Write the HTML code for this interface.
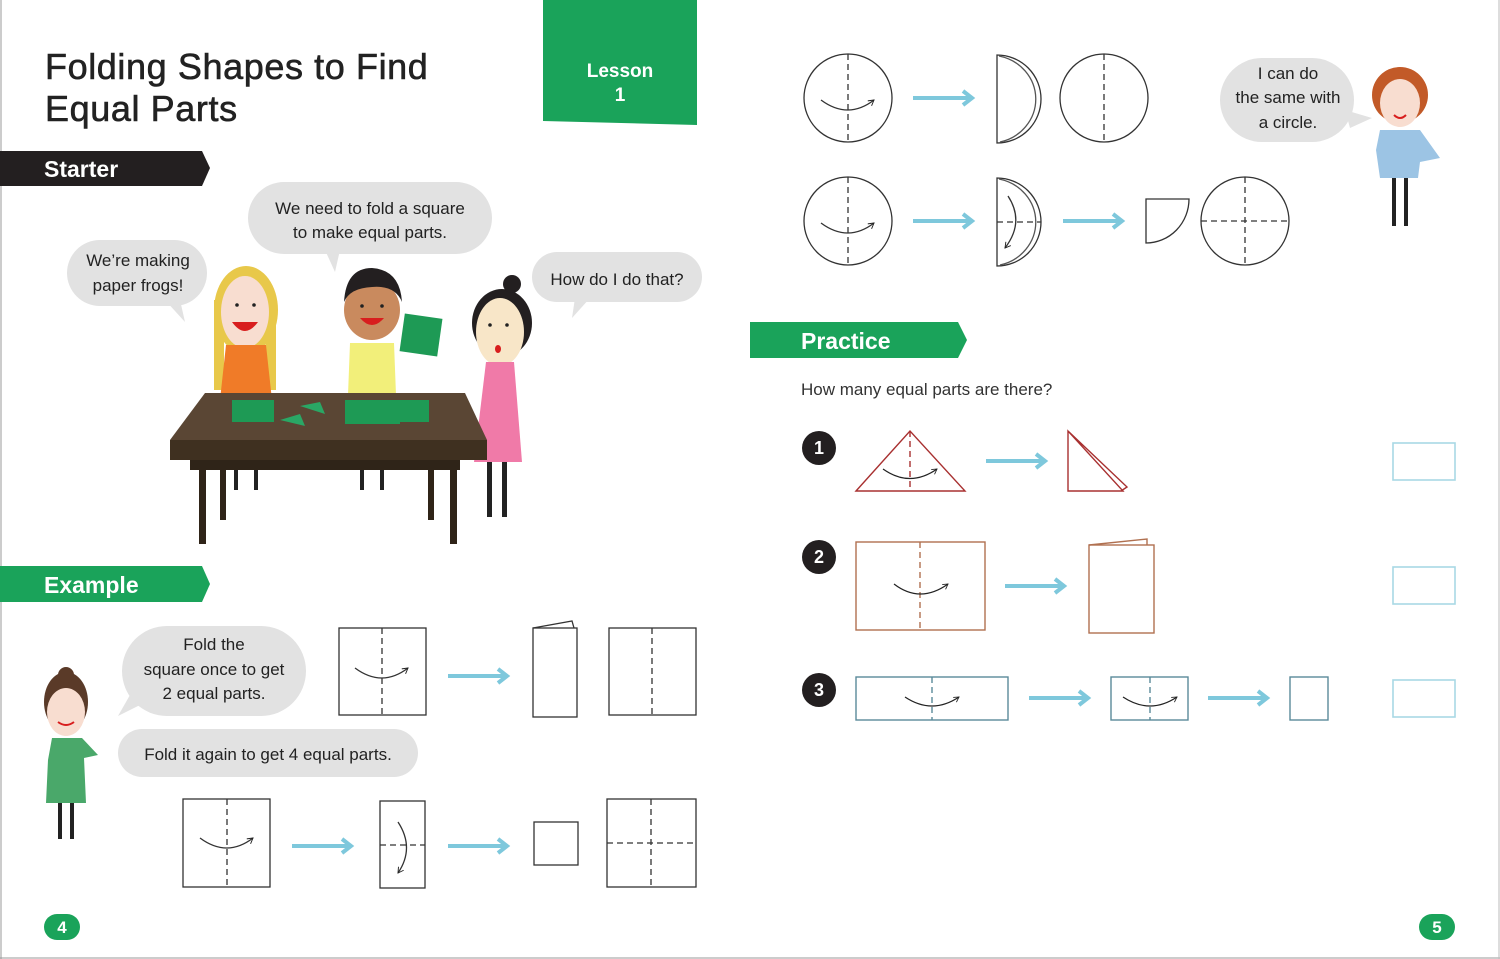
<!DOCTYPE html>
<html><head><meta charset="utf-8"><style>
html,body{margin:0;padding:0;background:#fff;}
svg{display:block;font-family:"Liberation Sans",sans-serif;}
</style></head><body>
<svg width="1500" height="959" viewBox="0 0 1500 959" xmlns="http://www.w3.org/2000/svg">
<defs>
<marker id="ah" viewBox="0 0 10 10" refX="8" refY="5" markerWidth="6" markerHeight="6" orient="auto"><path d="M1,1 L8,5 L1,9" fill="none" stroke="#222" stroke-width="1.2"/></marker>
<g id="barr"><line x1="0" y1="0" x2="56" y2="0" stroke="#7ec8dc" stroke-width="4"/><path d="M50,-7 L59,0 L50,7" fill="none" stroke="#7ec8dc" stroke-width="4"/></g>
</defs>
<rect x="0" y="0" width="1500" height="959" fill="#fff"/>
<line x1="1" y1="0" x2="1" y2="959" stroke="#999" stroke-width="1"/>
<line x1="0" y1="958" x2="1500" y2="958" stroke="#999"/>
<line x1="1499" y1="0" x2="1499" y2="959" stroke="#bbb"/>

<!-- Title -->
<text x="45" y="79" font-size="36" fill="#222" letter-spacing="0.6" stroke="#222" stroke-width="0.6">Folding Shapes to Find</text>
<text x="45" y="121" font-size="36" fill="#222" letter-spacing="0.6" stroke="#222" stroke-width="0.6">Equal Parts</text>

<!-- Lesson -->
<path d="M543,0 H697 V125 L543,121 Z" fill="#1aa35a"/>
<text x="620" y="77" font-size="19" fill="#fff" font-weight="bold" text-anchor="middle">Lesson</text>
<text x="620" y="101" font-size="19" fill="#fff" font-weight="bold" text-anchor="middle">1</text>

<!-- Banners -->
<path d="M0,151 H202 L210,168 L202,186 H0 Z" fill="#231f20"/>
<text x="44" y="177" font-size="23" fill="#fff" font-weight="bold">Starter</text>
<path d="M0,566 H202 L210,584 L202,602 H0 Z" fill="#1aa35a"/>
<text x="44" y="593" font-size="23" fill="#fff" font-weight="bold">Example</text>
<path d="M750,322 H958 L967,340 L958,358 H750 Z" fill="#1aa35a"/>
<text x="801" y="349" font-size="23" fill="#fff" font-weight="bold">Practice</text>

<!-- Starter bubbles -->
<g fill="#e2e2e2">
<rect x="248" y="182" width="244" height="72" rx="36"/><path d="M325,250 L340,250 L335,272 Z"/>
<rect x="67" y="240" width="140" height="66" rx="33"/><path d="M165,300 L180,300 L185,322 Z"/>
<rect x="532" y="252" width="170" height="50" rx="25"/><path d="M575,298 L590,298 L572,318 Z"/>
</g>
<g font-size="17" fill="#222" text-anchor="middle">
<text x="370" y="214">We need to fold a square</text>
<text x="370" y="238">to make equal parts.</text>
<text x="138" y="266">We’re making</text>
<text x="138" y="291">paper frogs!</text>
<text x="617" y="285">How do I do that?</text>
</g>

<!-- Starter illustration -->
<ellipse cx="246" cy="310" rx="32" ry="44" fill="#e8c84a"/>
<rect x="214" y="300" width="10" height="90" fill="#e8c84a"/><rect x="266" y="300" width="10" height="90" fill="#e8c84a"/>
<ellipse cx="245" cy="312" rx="24" ry="36" fill="#f8ddd0"/>
<path d="M232,322 Q245,340 258,322 Z" fill="#d81e1e"/>
<circle cx="237" cy="305" r="1.8" fill="#222"/><circle cx="254" cy="305" r="1.8" fill="#222"/>
<path d="M226,345 H266 L272,400 H220 Z" fill="#f07b28"/>
<rect x="234" y="460" width="4" height="30" fill="#222"/><rect x="254" y="460" width="4" height="30" fill="#222"/>
<ellipse cx="372" cy="310" rx="28" ry="30" fill="#c98a5e"/>
<path d="M344,302 Q346,268 372,268 Q400,270 402,302 Q395,285 372,287 Q350,288 344,302 Z" fill="#231f20"/>
<path d="M360,318 Q372,332 384,318 Z" fill="#d81e1e"/>
<circle cx="362" cy="306" r="1.8" fill="#222"/><circle cx="382" cy="306" r="1.8" fill="#222"/>
<path d="M350,343 H394 L396,395 H348 Z" fill="#f2ef7a"/>
<rect x="402" y="316" width="38" height="38" fill="#1e9a55" transform="rotate(8 421 335)"/>
<rect x="360" y="460" width="4" height="30" fill="#222"/><rect x="380" y="460" width="4" height="30" fill="#222"/>
<ellipse cx="502" cy="323" rx="30" ry="34" fill="#231f20"/><circle cx="512" cy="284" r="9" fill="#231f20"/>
<ellipse cx="500" cy="332" rx="24" ry="34" fill="#f8e6c8"/>
<circle cx="490" cy="325" r="1.8" fill="#222"/><circle cx="507" cy="325" r="1.8" fill="#222"/>
<ellipse cx="498" cy="349" rx="3" ry="4" fill="#d81e1e"/>
<path d="M486,362 H514 L522,462 H474 Z" fill="#f07aa8"/>
<rect x="487" y="462" width="5" height="55" fill="#222"/><rect x="502" y="462" width="5" height="55" fill="#222"/>
<path d="M205,393 H465 L487,440 H170 Z" fill="#5a4634"/>
<rect x="170" y="440" width="317" height="20" fill="#3f3020"/>
<rect x="190" y="460" width="270" height="10" fill="#2f2418"/>
<rect x="199" y="460" width="7" height="84" fill="#2f2418"/><rect x="450" y="460" width="7" height="84" fill="#2f2418"/>
<rect x="220" y="460" width="6" height="60" fill="#2f2418"/><rect x="428" y="460" width="6" height="60" fill="#2f2418"/>
<rect x="232" y="400" width="42" height="22" fill="#1e9a55"/>
<rect x="345" y="400" width="55" height="24" fill="#1e9a55"/><rect x="382" y="400" width="47" height="22" fill="#1e9a55"/>
<path d="M280,420 L300,414 L305,426 Z" fill="#2aa765"/><path d="M300,406 L320,402 L325,414 Z" fill="#2aa765"/>

<!-- Top-right circles -->
<g fill="none" stroke="#333" stroke-width="1.3">
<circle cx="848" cy="98" r="44"/><line x1="848" y1="54" x2="848" y2="142" stroke-dasharray="6,4"/>
<path d="M821,100 Q848,120 874,100" marker-end="url(#ah)"/>
<path d="M997,55 A44,44 0 0 1 997,143 Z"/><path d="M999,56 A46,44 0 0 1 1000,142" stroke="#555"/>
<circle cx="1104" cy="98" r="44"/><line x1="1104" y1="54" x2="1104" y2="142" stroke-dasharray="6,4"/>
<circle cx="848" cy="221" r="44"/><line x1="848" y1="177" x2="848" y2="265" stroke-dasharray="6,4"/>
<path d="M821,223 Q848,243 874,223" marker-end="url(#ah)"/>
<path d="M997,178 A44,44 0 0 1 997,266 Z"/><path d="M999,179 A46,44 0 0 1 1000,265" stroke="#555"/>
<line x1="997" y1="222" x2="1041" y2="222" stroke-dasharray="6,4"/>
<path d="M1008,196 Q1025,222 1005,248" marker-end="url(#ah)"/>
<path d="M1146,199 H1189 A43,44 0 0 1 1146,243 Z"/>
<circle cx="1245" cy="221" r="44"/><line x1="1245" y1="177" x2="1245" y2="265" stroke-dasharray="6,4"/><line x1="1201" y1="221" x2="1289" y2="221" stroke-dasharray="6,4"/>
</g>
<use href="#barr" x="913" y="98"/><use href="#barr" x="913" y="221"/><use href="#barr" x="1063" y="221"/>

<rect x="1220" y="58" width="134" height="84" rx="42" fill="#e2e2e2"/><path d="M1345,110 L1372,118 L1350,128 Z" fill="#e2e2e2"/>
<g font-size="17" fill="#222" text-anchor="middle">
<text x="1288" y="79">I can do</text><text x="1288" y="103">the same with</text><text x="1288" y="128">a circle.</text>
</g>
<circle cx="1400" cy="95" r="28" fill="#c25a28"/>
<ellipse cx="1400" cy="103" rx="20" ry="24" fill="#f8ddd0"/>
<path d="M1394,115 Q1400,121 1406,115" stroke="#d81e1e" stroke-width="2" fill="none"/>
<path d="M1380,130 H1420 L1440,158 L1420,162 L1418,178 H1380 L1376,150 Z" fill="#9cc4e4"/>
<rect x="1392" y="178" width="4" height="48" fill="#222"/><rect x="1404" y="178" width="4" height="48" fill="#222"/>

<!-- Practice -->
<text x="801" y="395" font-size="17" fill="#333">How many equal parts are there?</text>
<g fill="#231f20"><circle cx="819" cy="448" r="17"/><circle cx="819" cy="557" r="17"/><circle cx="819" cy="690" r="17"/></g>
<g fill="#fff" font-size="18" font-weight="bold" text-anchor="middle"><text x="819" y="454">1</text><text x="819" y="563">2</text><text x="819" y="696">3</text></g>
<g fill="none" stroke-width="1.4">
<path d="M856,491 L910,431 L965,491 Z" stroke="#a83030"/><line x1="910" y1="431" x2="910" y2="491" stroke="#a83030" stroke-dasharray="6,4"/>
<path d="M1068,431 L1068,491 L1123,491 Z M1068,431 L1127,487 L1121,491" stroke="#a83030"/>
<rect x="856" y="542" width="129" height="88" stroke="#b07050"/><line x1="920" y1="542" x2="920" y2="630" stroke="#b07050" stroke-dasharray="6,4"/>
<rect x="1089" y="545" width="65" height="88" stroke="#b07050"/><path d="M1089,545 L1147,539 L1147,545" stroke="#b07050"/>
<rect x="856" y="677" width="152" height="43" stroke="#5a8a9a"/><line x1="932" y1="677" x2="932" y2="720" stroke="#5a8a9a" stroke-dasharray="6,4"/>
<rect x="1111" y="677" width="77" height="43" stroke="#5a8a9a"/><line x1="1150" y1="677" x2="1150" y2="720" stroke="#5a8a9a" stroke-dasharray="6,4"/>
<rect x="1290" y="677" width="38" height="43" stroke="#5a8a9a"/>
<g stroke="#222" stroke-width="1.2">
<path d="M883,469 Q910,488 937,469" marker-end="url(#ah)"/>
<path d="M894,584 Q920,604 948,584" marker-end="url(#ah)"/>
<path d="M905,697 Q932,715 959,697" marker-end="url(#ah)"/>
<path d="M1123,697 Q1150,715 1177,697" marker-end="url(#ah)"/>
</g>
<g stroke="#a8d8e4" stroke-width="1.6"><rect x="1393" y="443" width="62" height="37"/><rect x="1393" y="567" width="62" height="37"/><rect x="1393" y="680" width="62" height="37"/></g>
</g>
<use href="#barr" x="986" y="461"/><use href="#barr" x="1005" y="586"/><use href="#barr" x="1029" y="698"/><use href="#barr" x="1208" y="698"/>

<!-- Example -->
<g fill="#e2e2e2">
<rect x="122" y="626" width="184" height="90" rx="45"/><path d="M130,695 L150,700 L118,716 Z"/>
<rect x="118" y="729" width="300" height="48" rx="24"/>
</g>
<g font-size="17" fill="#222" text-anchor="middle">
<text x="214" y="650">Fold the</text><text x="214" y="675">square once to get</text><text x="214" y="699">2 equal parts.</text>
<text x="268" y="760">Fold it again to get 4 equal parts.</text>
</g>
<ellipse cx="66" cy="702" rx="22" ry="30" fill="#5a3a28"/><circle cx="66" cy="675" r="8" fill="#5a3a28"/>
<ellipse cx="66" cy="712" rx="19" ry="24" fill="#f8ddd0"/>
<path d="M58,722 Q66,728 74,722" stroke="#d81e1e" stroke-width="2" fill="none"/>
<path d="M52,738 H82 L98,755 L84,758 L86,803 H46 L48,760 Z" fill="#4aa86a"/>
<rect x="58" y="803" width="4" height="36" fill="#222"/><rect x="70" y="803" width="4" height="36" fill="#222"/>

<g fill="none" stroke="#333" stroke-width="1.3">
<rect x="339" y="628" width="87" height="87"/><line x1="382" y1="628" x2="382" y2="715" stroke-dasharray="6,4"/>
<path d="M355,668 Q382,688 408,668" marker-end="url(#ah)"/>
<rect x="533" y="628" width="44" height="89"/><path d="M533,628 L572,621 L574,628"/>
<rect x="609" y="628" width="87" height="87"/><line x1="652" y1="628" x2="652" y2="715" stroke-dasharray="6,4"/>
<rect x="183" y="799" width="87" height="88"/><line x1="227" y1="799" x2="227" y2="887" stroke-dasharray="6,4"/>
<path d="M200,838 Q227,858 253,838" marker-end="url(#ah)"/>
<rect x="380" y="801" width="45" height="87"/><line x1="380" y1="845" x2="425" y2="845" stroke-dasharray="6,4"/>
<path d="M398,822 Q415,848 398,873" marker-end="url(#ah)"/>
<rect x="534" y="822" width="44" height="43"/>
<rect x="607" y="799" width="89" height="88"/><line x1="651" y1="799" x2="651" y2="887" stroke-dasharray="6,4"/><line x1="607" y1="843" x2="696" y2="843" stroke-dasharray="6,4"/>
</g>
<use href="#barr" x="448" y="676"/><use href="#barr" x="292" y="846"/><use href="#barr" x="448" y="846"/>

<rect x="44" y="914" width="36" height="26" rx="13" fill="#1aa35a"/><text x="62" y="933" font-size="17" font-weight="bold" fill="#fff" text-anchor="middle">4</text>
<rect x="1419" y="914" width="36" height="26" rx="13" fill="#1aa35a"/><text x="1437" y="933" font-size="17" font-weight="bold" fill="#fff" text-anchor="middle">5</text>
</svg>
</body></html>
